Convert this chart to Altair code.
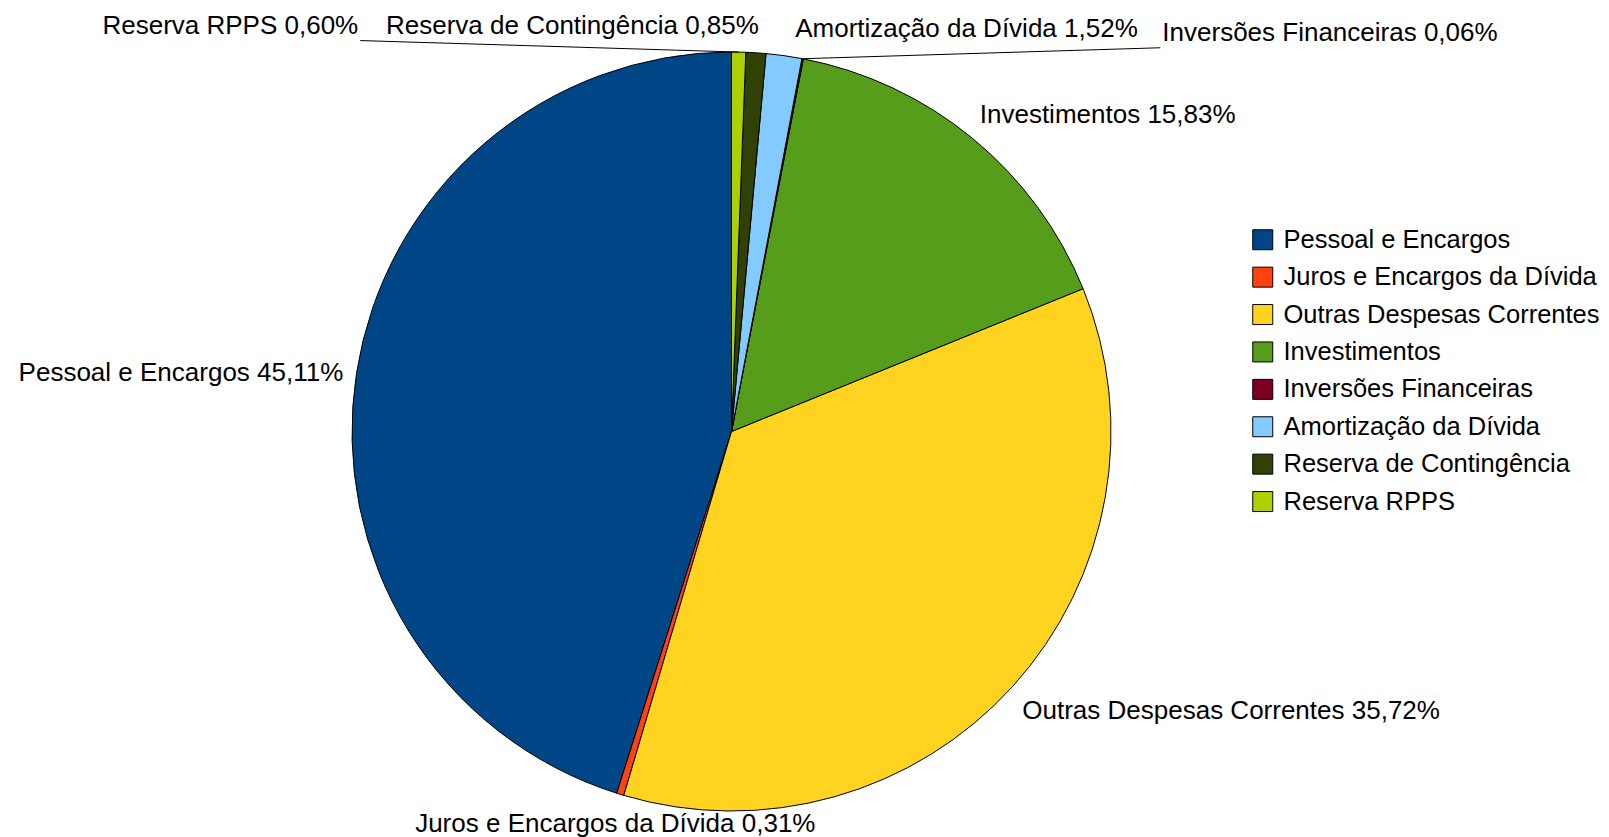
import altair as alt
import pandas as pd

# ---- data -------------------------------------------------------------
categories = [
    "Pessoal e Encargos",
    "Juros e Encargos da Dívida",
    "Outras Despesas Correntes",
    "Investimentos",
    "Inversões Financeiras",
    "Amortização da Dívida",
    "Reserva de Contingência",
    "Reserva RPPS",
]
values = [45.11, 0.31, 35.72, 15.83, 0.06, 1.52, 0.85, 0.60]
colors = ["#004586", "#ff420e", "#ffd320", "#579d1c", "#7e0021", "#83caff", "#314004", "#aecf00"]

df = pd.DataFrame({"cat": categories, "value": values})
# LibreOffice draws the first series counter-clockwise from 12 o'clock;
# Vega goes clockwise, so stack in reverse order.
df["order"] = list(range(len(categories) - 1, -1, -1))
df["label"] = [f"{c} {v:.2f}%".replace(".", ",") for c, v in zip(categories, values)]

# ---- layout -------------------------------------------------------------
W, H = 1593, 829
CX, CY = 723.5, 423.5
R = 379.5          # pie radius
LR = 410           # label radius
FONT = "Liberation Sans"
FS = 26

# label placement style: align, dx, dy
placement = {
    "Pessoal e Encargos": ("right", 17, 4),
    "Juros e Encargos da Dívida": ("center", 4, 1),
    "Outras Despesas Correntes": ("left", -13, 4),
    "Investimentos": ("left", -12, 0),
    "Inversões Financeiras": ("left", 354, 4),
    "Amortização da Dívida": ("left", 7, 4),
    "Reserva de Contingência": ("right", 1, 4),
    "Reserva RPPS": ("right", -381, 4),
}
# leader lines: offset of the line end from the label anchor
leaders = {
    "Reserva RPPS": (2, 15),
    "Inversões Financeiras": (-2, 15),
}

base = alt.Chart(df)

theta = alt.Theta("value:Q", stack=True)
order = alt.Order("order:Q")

pie = base.mark_arc(radius=R, stroke="black", strokeWidth=1).encode(
    theta=theta,
    order=order,
    color=alt.Color(
        "cat:N",
        scale=alt.Scale(domain=categories, range=colors),
        legend=alt.Legend(
            title=None,
            orient="none",
            legendX=1242,
            legendY=219,
            symbolType="square",
            symbolSize=400,
            symbolStrokeColor="black",
            symbolStrokeWidth=1,
            symbolOpacity=1,
            labelFont=FONT,
            labelFontSize=25.5,
            labelColor="black",
            labelLimit=0,
            labelOffset=8,
            rowPadding=10.4,
            padding=0,
        ),
    ),
    x=alt.value(CX),
    y=alt.value(CY),
)

layers = [pie]

for cat, (align, dx, dy) in placement.items():
    t = base.mark_text(
        radius=LR, align=align, baseline="middle", dx=dx, dy=dy,
        font=FONT, fontSize=FS, color="black",
    ).encode(
        theta=theta,
        order=order,
        text=alt.condition(alt.datum.cat == cat, alt.Text("label:N"), alt.value("")),
        x=alt.value(CX),
        y=alt.value(CY),
    )
    layers.append(t)

for cat, (ox, oy) in leaders.items():
    _, dx, dy = placement[cat]
    rule = (
        base.transform_window(cum="sum(value)", sort=[alt.SortField("order")], frame=[None, 0])
        .transform_joinaggregate(total="sum(value)")
        .transform_calculate(mid="2*PI*(datum.cum - datum.value/2)/datum.total")
        .transform_filter(alt.datum.cat == cat)
        .transform_calculate(
            px=f"{CX} + {R}*sin(datum.mid)",
            py=f"{CY} - {R}*cos(datum.mid)",
            lx=f"{CX} + {LR}*sin(datum.mid) + {dx + ox}",
            ly=f"{CY} - {LR}*cos(datum.mid) + {dy + oy}",
        )
        .mark_rule(color="black", strokeWidth=1)
        .encode(
            x=alt.X("px:Q", scale=None, axis=None),
            y=alt.Y("py:Q", scale=None, axis=None),
            x2="lx:Q",
            y2="ly:Q",
        )
    )
    layers.append(rule)

chart = (
    alt.layer(*layers)
    .properties(width=W, height=H, autosize=alt.AutoSizeParams(type="none"), padding=0)
    .configure_view(stroke=None)
)

chart.save("out.html", embed_options={"renderer": "svg", "actions": False})
